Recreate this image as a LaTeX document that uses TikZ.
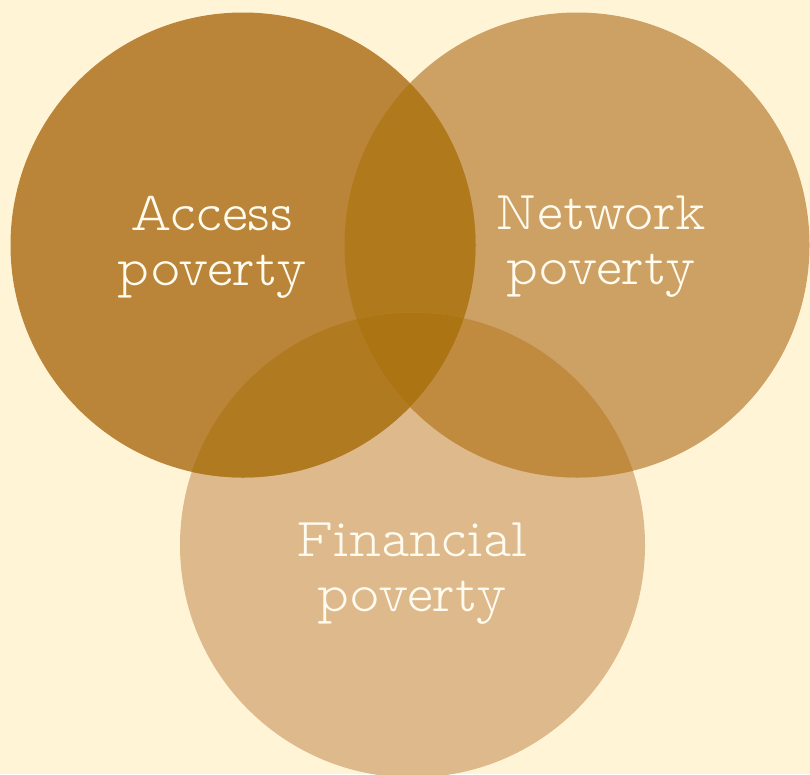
\documentclass[tikz,border=0pt]{standalone}
\usepackage{fontspec}
\setmonofont{Latin Modern Mono Prop Light}
\definecolor{bg}{HTML}{FFF5D6}
\definecolor{cA}{HTML}{BA8538}
\definecolor{cN}{HTML}{CDA063}
\definecolor{cF}{HTML}{DDB98B}
\definecolor{cAN}{HTML}{B07A1C}
\definecolor{cAF}{HTML}{B07B20}
\definecolor{cNF}{HTML}{C08B3E}
\definecolor{cANF}{HTML}{AC7412}
\definecolor{txt}{HTML}{FFFBEF}
\tikzset{lab/.style={text=txt, align=center, font=\ttfamily\fontsize{55}{55}\selectfont, inner sep=0pt}}
\begin{document}
\begin{tikzpicture}[x=1pt,y=-1pt]
\useasboundingbox (0,0) rectangle (810,774);
\fill[bg] (0,0) rectangle (810,774);
\def\A{(243,245) circle (232.5)}
\def\N{(577,245) circle (232.5)}
\def\F{(412.5,545) circle (232.5)}
\fill[cF] \F;
\fill[cN] \N;
\fill[cA] \A;
\begin{scope}\clip \A; \fill[cAN] \N; \end{scope}
\begin{scope}\clip \A; \fill[cAF] \F; \end{scope}
\begin{scope}\clip \N; \fill[cNF] \F; \end{scope}
\begin{scope}\clip \A; \clip \N; \fill[cANF] \F; \end{scope}
\node[lab] (access) at (212,247) {Access\\poverty};
\node[lab] (network) at (601,247) {Network\\poverty};
\node[lab] (financial) at (412,574) {Financial\\poverty};
\end{tikzpicture}
\end{document}
